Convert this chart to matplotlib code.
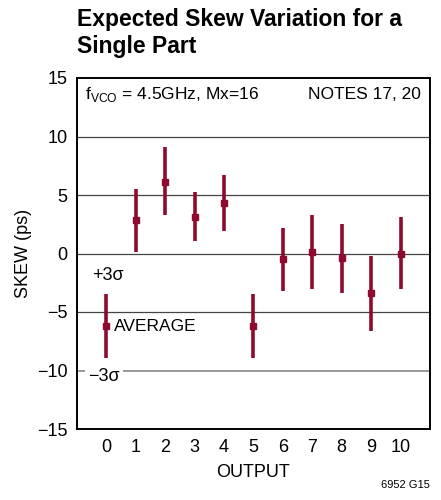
import numpy as np
import matplotlib.pyplot as plt

plt.rcParams["font.family"] = ["Liberation Sans Narrow", "Liberation Sans", "DejaVu Sans"]

outputs = list(range(11))
average = [-6.2, 2.85, 6.15, 3.15, 4.3, -6.2, -0.5, 0.1, -0.4, -3.4, 0.0]
plus_3sigma = [-3.5, 5.5, 9.1, 5.25, 6.7, -3.5, 2.15, 3.3, 2.5, -0.2, 3.1]
minus_3sigma = [-8.9, 0.15, 3.3, 1.1, 1.9, -8.9, -3.2, -3.05, -3.35, -6.6, -3.0]

color = "#8e0a2e"

fig = plt.figure(figsize=(4.41, 5.0), dpi=100)
ax = fig.add_axes([0.1746, 0.142, 0.8004, 0.702])

# grid lines at the inner ticks only
for y in [10, 5, 0, -5]:
    ax.axhline(y, color="#444444", lw=0.9, zorder=1)
ax.axhline(-10, color="#888888", lw=1.2, zorder=1)

avg = np.array(average)
err = [avg - np.array(minus_3sigma), np.array(plus_3sigma) - avg]
ax.errorbar(outputs, average, yerr=err, fmt="s", color=color, ms=4.5,
            elinewidth=2.6, capsize=0, zorder=3)

ax.set_xlim(-1, 11)
ax.set_ylim(-15, 15)
ax.set_xticks(outputs)
ax.set_yticks([-15, -10, -5, 0, 5, 10, 15])
ax.tick_params(length=0, labelsize=13, pad=7)
for s in ax.spines.values():
    s.set_linewidth(1.4)

ax.set_xlabel("OUTPUT", fontsize=13, labelpad=6)
ax.set_ylabel("SKEW (ps)", fontsize=13, labelpad=3)

ax.text(-0.72, 13.55, r"f$_\mathregular{VCO}$ = 4.5GHz, Mx=16", fontsize=12.5, va="center")
ax.text(10.7, 13.55, "NOTES 17, 20", fontsize=12.5, va="center", ha="right")
ax.text(-0.5, -1.9, "+3σ", fontsize=13, va="center", family=["Liberation Sans", "DejaVu Sans"])
ax.text(0.27, -6.2, "AVERAGE", fontsize=12.5, va="center")
ax.text(-0.62, -10.5, "−3σ", fontsize=13, va="center", family=["Liberation Sans", "DejaVu Sans"],
        bbox=dict(facecolor="white", edgecolor="none", pad=2.5), zorder=2)

fig.text(0.1746, 0.984, "Expected Skew Variation for a\nSingle Part", fontsize=16.5,
         fontweight="bold", va="top", ha="left", linespacing=1.2)
fig.text(0.975, 0.02, "6952 G15", fontsize=8, ha="right", va="bottom")

fig.savefig("out.png", dpi=100)
